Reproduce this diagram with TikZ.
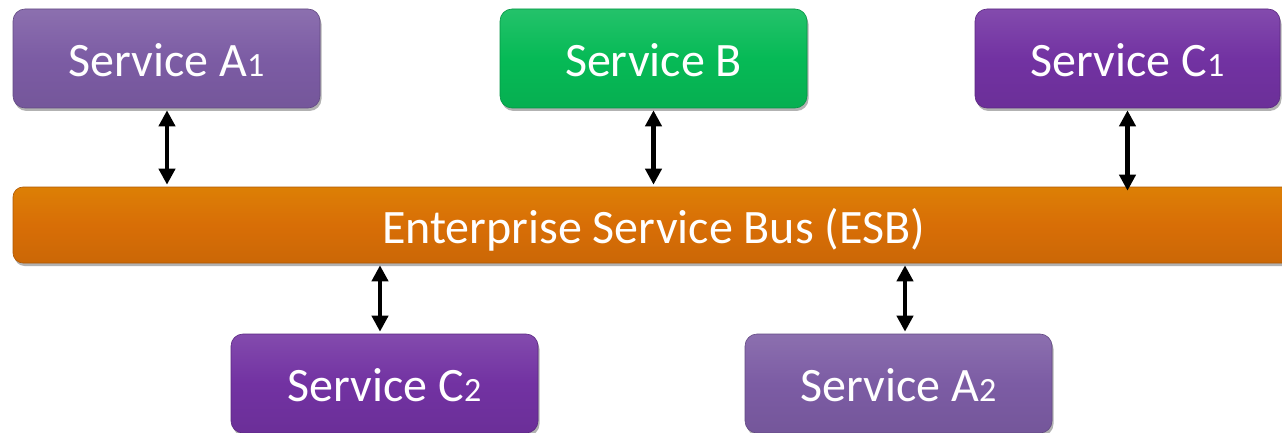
\documentclass[tikz,border=0pt]{standalone}
\usepackage{fontspec}
\setmainfont{Carlito}
\usetikzlibrary{arrows.meta,shadows}
\definecolor{lavender}{RGB}{124,92,164}
\definecolor{grape}{RGB}{114,50,162}
\definecolor{leaf}{RGB}{6,186,86}
\definecolor{amber}{RGB}{216,110,6}
\tikzset{
  svc/.style={rounded corners=12pt, minimum width=307pt, minimum height=99pt,
    text=white, font=\fontsize{48}{56}\selectfont, inner sep=0pt,
    text height=36pt, text depth=0pt,
    draw=#1!80!black, line width=0.6pt,
    top color=#1!88!white, bottom color=#1!94!black, middle color=#1,
    drop shadow={shadow xshift=1.5pt, shadow yshift=-3pt, opacity=0.3, fill=black}},
  bus/.style={rounded corners=10pt, minimum width=1281pt, minimum height=76pt,
    text=white, font=\fontsize{48}{56}\selectfont, inner sep=0pt,
    text height=36pt, text depth=0pt,
    draw=amber!80!black, line width=0.6pt,
    top color=amber!88!yellow, bottom color=amber!94!black, middle color=amber,
    drop shadow={shadow xshift=1.5pt, shadow yshift=-3pt, opacity=0.3, fill=black}},
  link/.style={{Triangle[length=16pt,width=16pt]}-{Triangle[length=16pt,width=16pt]},
    line width=4.5pt, black, shorten >=2pt, shorten <=2pt}
}
\newcommand{\idx}[1]{{\fontsize{34}{40}\selectfont #1}}
\begin{document}
\begin{tikzpicture}[x=1pt,y=-1pt]
  \useasboundingbox (0,0) rectangle (1282,433);
  \fill[white] (0,0) rectangle (1282,433);
  % services above the bus
  \node[svc=lavender] (a1) at (166.5,58.5) {Service A\idx{1}};
  \node[svc=leaf]     (b)  at (653.5,58.5) {Service B};
  \node[svc=grape, minimum width=305pt] (c1) at (1127.5,58.5) {Service C\idx{1}};
  % the bus
  \node[bus] (esb) at (653.5,225) {Enterprise Service Bus (ESB)};
  % services below the bus
  \node[svc=grape]    (c2) at (384.5,383.5) {Service C\idx{2}};
  \node[svc=lavender] (a2) at (898.5,383.5) {Service A\idx{2}};
  % connectors
  \draw[link] ([xshift=0.5pt]a1.south) -- ([xshift=0.5pt]a1.south |- esb.north);
  \draw[link] (b.south) -- (b.south |- esb.north);
  \draw[link] (c1.south) -- ([yshift=-6pt]c1.south |- esb.north);
  \draw[link] (c2.north -| 380,0) -- (esb.south -| 380,0);
  \draw[link] (a2.north -| 905,0) -- (esb.south -| 905,0);
\end{tikzpicture}
\end{document}
